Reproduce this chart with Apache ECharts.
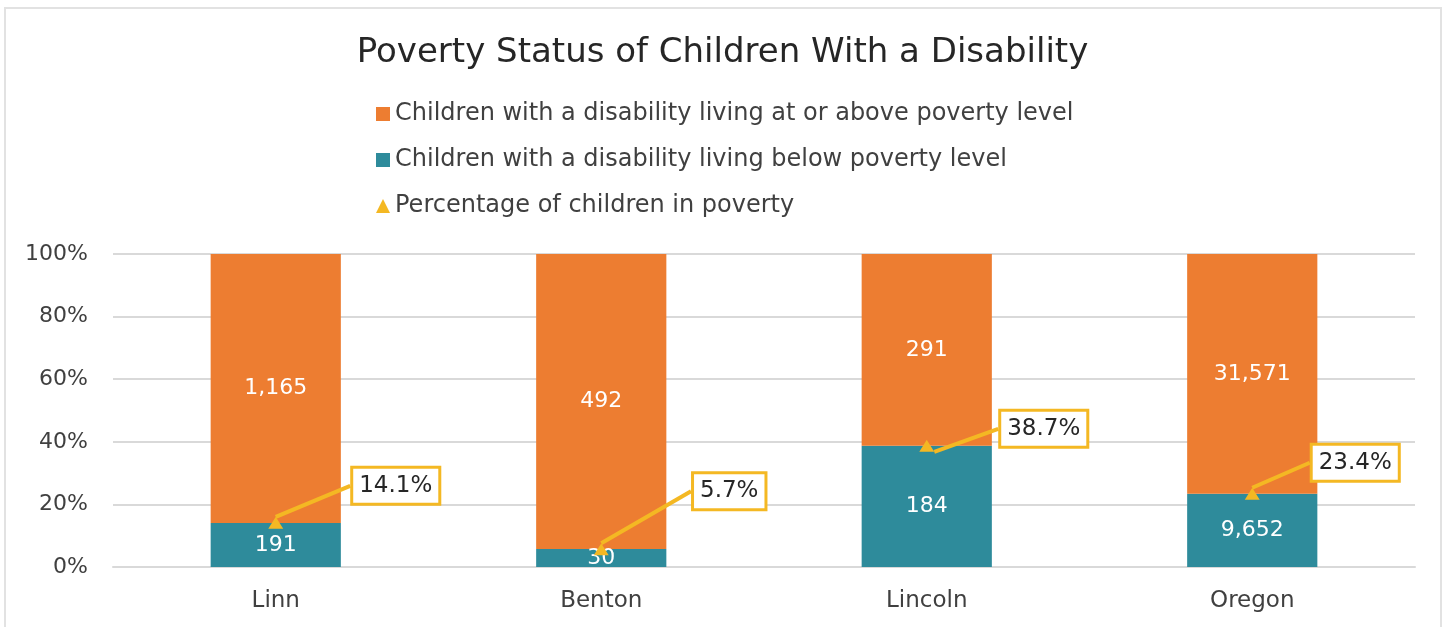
<!DOCTYPE html>
<html>
<head>
<meta charset="utf-8">
<script src="https://cdn.jsdelivr.net/npm/echarts@6/dist/echarts.min.js"></script>
<style>
  html, body { margin: 0; padding: 0; background: #fff; }
  #chart { width: 1445px; height: 627px; }
</style>
</head>
<body>
<div id="chart"></div>
<script>
// data
var counties = ['Linn', 'Benton', 'Lincoln', 'Oregon'];
var aboveCounts = [1165, 492, 291, 31571];
var belowCounts = [191, 30, 184, 9652];
var povertyPct = [14.1, 5.7, 38.7, 23.4];

// where each callout box sits relative to its marker
var calloutOffsets = [[120, -37], [128, -58], [117, -17], [103, -31]];

var ORANGE = '#ED7D31';
var TEAL = '#2E8B9B';
var GOLD = '#F4B823';
var FONT = '"DejaVu Sans", Lato, sans-serif';

// 100% stacked: share of each county total
var belowShare = [];
var aboveShare = [];
for (var i = 0; i < counties.length; i++) {
  var tot = aboveCounts[i] + belowCounts[i];
  belowShare.push({ value: belowCounts[i] / tot * 100, count: belowCounts[i] });
  aboveShare.push({ value: aboveCounts[i] / tot * 100, count: aboveCounts[i] });
}

function fmtCount(p) {
  return p.data.count.toLocaleString('en-US');
}

var chart = echarts.init(document.getElementById('chart'));

var option = {
  backgroundColor: '#fff',
  animation: false,
  textStyle: { fontFamily: FONT },
  graphic: [{
    type: 'rect',
    shape: { x: 5, y: 8, width: 1436, height: 640 },
    style: { fill: 'none', stroke: '#E2E2E2', lineWidth: 2 },
    silent: true
  }],
  title: {
    text: 'Poverty Status of Children With a Disability',
    left: 'center',
    top: 31,
    textStyle: { fontSize: 34, fontWeight: 'normal', color: '#262626', fontFamily: FONT }
  },
  legend: {
    orient: 'vertical',
    left: 371,
    top: 97,
    itemGap: 22,
    itemWidth: 14,
    itemHeight: 14,
    textStyle: { fontSize: 24, color: '#404040', fontFamily: FONT },
    data: [
      { name: 'Children with a disability living at or above poverty level', icon: 'rect' },
      { name: 'Children with a disability living below poverty level', icon: 'rect' },
      { name: 'Percentage of children in poverty', icon: 'triangle' }
    ]
  },
  grid: { left: 113, right: 30, top: 254, bottom: 60 },
  xAxis: {
    type: 'category',
    data: counties,
    axisLine: { lineStyle: { color: '#D9D9D9', width: 2 } },
    axisTick: { show: false },
    axisLabel: { fontSize: 23, color: '#404040', margin: 23, fontFamily: FONT }
  },
  yAxis: {
    type: 'value',
    min: 0,
    max: 100,
    interval: 20,
    axisLine: { show: false },
    axisTick: { show: false },
    splitLine: { lineStyle: { color: '#D9D9D9', width: 2 } },
    axisLabel: { formatter: '{value}%', fontSize: 22, color: '#404040', margin: 25, fontFamily: FONT }
  },
  series: [
    {
      name: 'Children with a disability living below poverty level',
      type: 'bar',
      stack: 'total',
      barWidth: '40%',
      data: belowShare,
      itemStyle: { color: TEAL },
      label: { show: true, position: 'inside', color: '#fff', fontSize: 22, formatter: fmtCount, fontFamily: FONT }
    },
    {
      name: 'Children with a disability living at or above poverty level',
      type: 'bar',
      stack: 'total',
      barWidth: '40%',
      data: aboveShare,
      itemStyle: { color: ORANGE },
      label: { show: true, position: 'inside', color: '#fff', fontSize: 22, formatter: fmtCount, fontFamily: FONT }
    },
    {
      name: 'Percentage of children in poverty',
      type: 'scatter',
      symbol: 'triangle',
      symbolSize: [15, 12],
      z: 5,
      data: povertyPct,
      itemStyle: { color: GOLD, opacity: 1 },
      label: {
        show: true,
        position: 'inside',
        formatter: function (p) { return p.value.toFixed(1) + '%'; },
        fontSize: 23,
        color: '#262626',
        fontFamily: FONT,
        backgroundColor: '#fff',
        borderColor: GOLD,
        borderWidth: 3,
        padding: [6, 6, 5, 6]
      },
      labelLayout: function (p) {
        var o = calloutOffsets[p.dataIndex];
        return { dx: o[0], dy: o[1] };
      },
      labelLine: {
        show: true,
        lineStyle: { color: GOLD, width: 4 }
      }
    }
  ]
};

chart.setOption(option);
</script>
</body>
</html>
